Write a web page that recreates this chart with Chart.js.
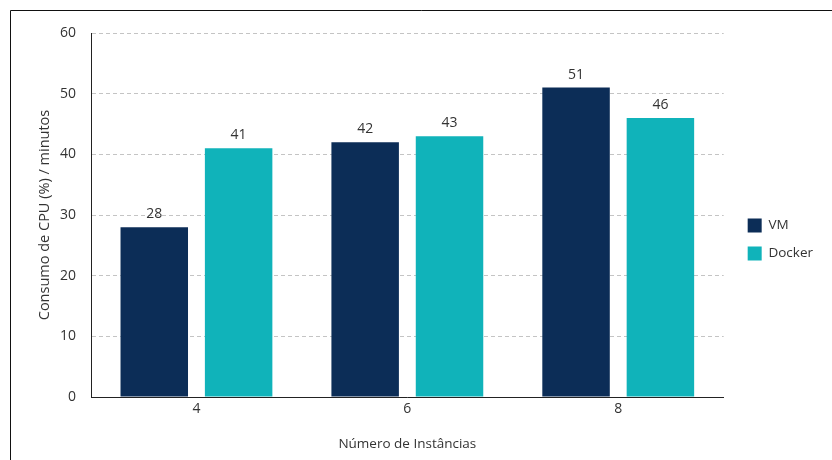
<!DOCTYPE html>
<html>
<head>
<meta charset="utf-8">
<script src="https://cdn.jsdelivr.net/npm/chart.js@4.4.1/dist/chart.umd.min.js"></script>
<style>
html,body{margin:0;padding:0;background:#fff;}
#wrap{width:832px;height:460px;position:relative;}
</style>
</head>
<body>
<div id="wrap"><canvas id="c" width="832" height="460"></canvas></div>
<script>
const categories = ['4', '6', '8'];
const seriesNames = ['VM', 'Docker'];
const vmValues = [28, 42, 51];
const dockerValues = [41, 43, 46];
const yTicks = [0, 10, 20, 30, 40, 50, 60];

const FONT = "'Open Sans', 'Noto Sans', sans-serif";
const TXT = '#333333';

const frame = {
  id: 'frame',
  beforeDraw(chart) {
    const ctx = chart.ctx;
    ctx.save();
    ctx.fillStyle = '#fff';
    ctx.fillRect(0, 0, chart.width, chart.height);
    ctx.strokeStyle = '#111';
    ctx.lineWidth = 1;
    ctx.beginPath();
    ctx.moveTo(10.5, chart.height);
    ctx.lineTo(10.5, 10.5);
    ctx.lineTo(chart.width, 10.5);
    ctx.stroke();
    ctx.restore();
  }
};

const legendShift = {
  id: 'legendShift',
  afterLayout(chart) {
    const lg = chart.legend;
    if (lg) { lg.left += 10; lg.right += 10; lg.top -= 3; lg.bottom -= 3; }
  }
};

const valueLabels = {
  id: 'valueLabels',
  afterDatasetsDraw(chart) {
    const ctx = chart.ctx;
    ctx.save();
    ctx.font = "14px " + FONT;
    ctx.fillStyle = TXT;
    ctx.textAlign = 'center';
    ctx.textBaseline = 'bottom';
    chart.data.datasets.forEach((ds, i) => {
      chart.getDatasetMeta(i).data.forEach((el, j) => {
        ctx.fillText(String(ds.data[j]), el.x, el.y - 6);
      });
    });
    ctx.restore();
  }
};

new Chart(document.getElementById('c'), {
  type: 'bar',
  data: {
    labels: categories,
    datasets: [
      { label: seriesNames[0], data: vmValues, backgroundColor: '#0c2d57' },
      { label: seriesNames[1], data: dockerValues, backgroundColor: '#10b3ba' }
    ]
  },
  options: {
    responsive: false,
    animation: false,
    devicePixelRatio: 1,
    layout: { padding: { left: 36, right: 19, top: 33, bottom: 8 } },
    datasets: { bar: { categoryPercentage: 0.8, barPercentage: 0.8 } },
    plugins: {
      legend: {
        position: 'right',
        labels: {
          boxWidth: 14, boxHeight: 14, padding: 14,
          color: TXT, font: { family: FONT, size: 13.5 }
        }
      },
      tooltip: { enabled: false }
    },
    scales: {
      x: {
        grid: { display: false, drawTicks: false },
        border: { display: true, color: '#222', width: 1 },
        ticks: { color: TXT, font: { family: FONT, size: 14 }, padding: 4 },
        title: { display: true, text: 'Número de Instâncias', color: TXT, font: { family: FONT, size: 13.5 }, padding: { top: 14, bottom: 0 } }
      },
      y: {
        min: 0, max: 60,
        afterBuildTicks(axis) { axis.ticks = yTicks.map(v => ({ value: v })); },
        afterFit(axis) { axis.width = 55; },
        grid: { color: '#c4c4c4', drawTicks: false },
        border: { display: true, color: '#222', width: 1, dash: [4, 3] },
        ticks: { color: TXT, font: { family: FONT, size: 14 }, padding: 15 },
        title: { display: true, text: 'Consumo de CPU (%) / minutos', color: TXT, font: { family: FONT, size: 14.5 }, padding: { top: 0, bottom: 4 } }
      }
    }
  },
  plugins: [frame, legendShift, valueLabels]
});
</script>
</body>
</html>
